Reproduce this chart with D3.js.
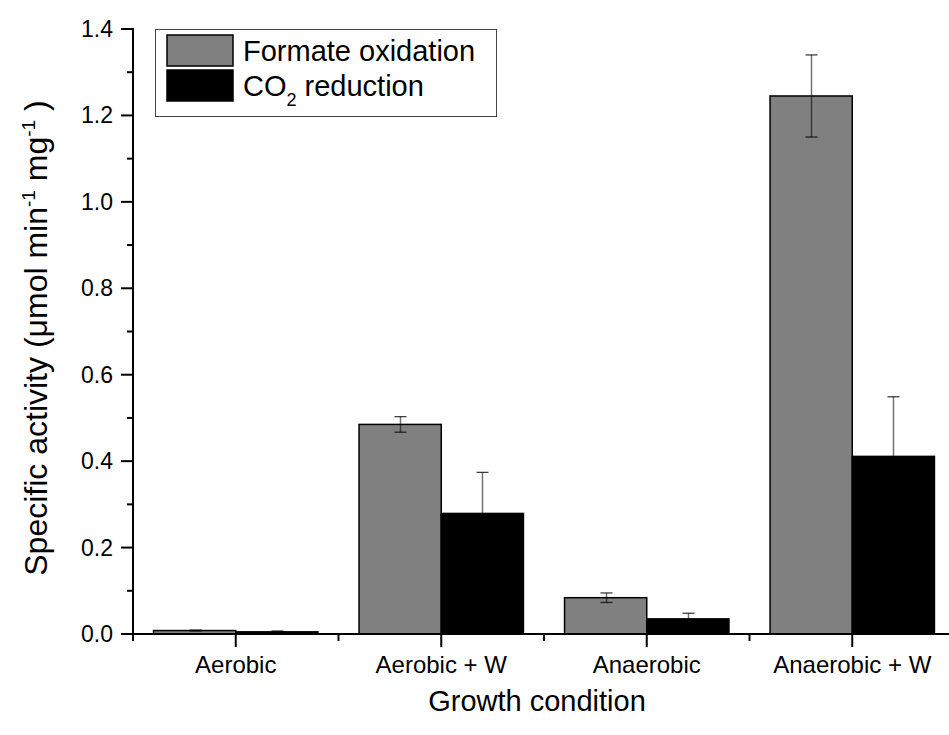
<!DOCTYPE html>
<html>
<head>
<meta charset="utf-8">
<script src="https://cdn.jsdelivr.net/npm/d3@7"></script>
<style>
  body { margin: 0; background: #fff; }
  text { font-family: "Liberation Sans", Arial, sans-serif; fill: #000; }
</style>
</head>
<body>
<div id="chart"></div>
<script>
var conditions = ["Aerobic", "Aerobic + W", "Anaerobic", "Anaerobic + W"];
var formateOx = [0.008, 0.485, 0.084, 1.245];
var formateErr = [0.001, 0.018, 0.011, 0.095];
var co2Red = [0.005, 0.279, 0.035, 0.411];
var co2Err = [0.002, 0.095, 0.013, 0.138];
var yTicks = [0.0, 0.2, 0.4, 0.6, 0.8, 1.0, 1.2, 1.4];

var width = 949, height = 735;

var svg = d3.select("#chart")
    .append("svg")
        .attr("width", width)
        .attr("height", height);

// category slots are 205.5 px wide, axis starts at x=133
var x = d3.scaleLinear()
        .domain([0, 4])
        .range([133, 955]);

var y = d3.scaleLinear()
        .domain([0, 1.4])
        .range([634, 29]);

var barW = 0.4;  // each series takes 40% of a slot

var series = [
    {name: "Formate oxidation", vals: formateOx, err: formateErr, fill: "#808080", off: -barW},
    {name: "CO2 reduction", vals: co2Red, err: co2Err, fill: "#000000", off: 0}
];

series.forEach(function(s) {
    var g = svg.append("g");
    g.selectAll("rect")
        .data(s.vals)
        .enter().append("rect")
            .attr("x", function(d, i) { return x(i + 0.5 + s.off); })
            .attr("width", x(barW) - x(0))
            .attr("y", function(d) { return y(d); })
            .attr("height", function(d) { return y(0) - y(d); })
            .attr("fill", s.fill)
            .attr("stroke", "#000")
            .attr("stroke-width", 1.5);

    // error bars, half-transparent black so they vanish inside black bars
    var cx = function(i) { return Math.round(x(i + 0.5 + s.off + barW / 2)) + 0.5; };
    var e = g.selectAll(".err")
        .data(s.vals)
        .enter().append("g");
    e.append("line")
        .attr("x1", function(d, i) { return cx(i); })
        .attr("x2", function(d, i) { return cx(i); })
        .attr("y1", function(d, i) { return y(d + s.err[i]); })
        .attr("y2", function(d, i) { return y(d - s.err[i]); })
        .attr("stroke", "#000")
        .attr("stroke-opacity", 0.55)
        .attr("stroke-width", 1.5);
    [1, -1].forEach(function(sign) {
        e.append("line")
            .attr("x1", function(d, i) { return cx(i) - 6; })
            .attr("x2", function(d, i) { return cx(i) + 6; })
            .attr("y1", function(d, i) { return y(d + sign * s.err[i]); })
            .attr("y2", function(d, i) { return y(d + sign * s.err[i]); })
            .attr("stroke", "#000")
            .attr("stroke-opacity", 0.75)
            .attr("stroke-width", 1.3);
    });
});

// y axis
var yAxis = svg.append("g");
yAxis.append("line")
    .attr("x1", 133).attr("x2", 133)
    .attr("y1", y(1.4) - 1).attr("y2", y(0))
    .attr("stroke", "#000").attr("stroke-width", 2);
var minorY = d3.range(0.1, 1.4, 0.2);
yAxis.selectAll(".minor")
    .data(minorY)
    .enter().append("line")
        .attr("x1", 127).attr("x2", 133)
        .attr("y1", function(d) { return y(d); })
        .attr("y2", function(d) { return y(d); })
        .attr("stroke", "#000").attr("stroke-width", 2);
yAxis.selectAll(".major")
    .data(yTicks)
    .enter().append("line")
        .attr("x1", 121).attr("x2", 133)
        .attr("y1", function(d) { return y(d); })
        .attr("y2", function(d) { return y(d); })
        .attr("stroke", "#000").attr("stroke-width", 2);
yAxis.selectAll("text")
    .data(yTicks)
    .enter().append("text")
        .attr("x", 113)
        .attr("y", function(d) { return y(d) + 8; })
        .attr("text-anchor", "end")
        .style("font-size", "23px")
        .text(function(d) { return d.toFixed(1); });

// x axis
var xAxis = svg.append("g");
xAxis.append("line")
    .attr("x1", 132).attr("x2", 955)
    .attr("y1", 634).attr("y2", 634)
    .attr("stroke", "#000").attr("stroke-width", 2);
xAxis.selectAll(".minor")
    .data(d3.range(0, 5))
    .enter().append("line")
        .attr("x1", function(d) { return x(d); })
        .attr("x2", function(d) { return x(d); })
        .attr("y1", 634).attr("y2", 641)
        .attr("stroke", "#000").attr("stroke-width", 2);
xAxis.selectAll(".major")
    .data(conditions)
    .enter().append("line")
        .attr("x1", function(d, i) { return x(i + 0.5); })
        .attr("x2", function(d, i) { return x(i + 0.5); })
        .attr("y1", 634).attr("y2", 647)
        .attr("stroke", "#000").attr("stroke-width", 2);
xAxis.selectAll("text")
    .data(conditions)
    .enter().append("text")
        .attr("x", function(d, i) { return x(i + 0.5); })
        .attr("y", 673)
        .attr("text-anchor", "middle")
        .style("font-size", "24px")
        .text(function(d) { return d; });

// axis titles
svg.append("text")
    .attr("x", 537)
    .attr("y", 711)
    .attr("text-anchor", "middle")
    .style("font-size", "29px")
    .text("Growth condition");

var yt = svg.append("text")
    .attr("transform", "translate(47,338) rotate(-90)")
    .attr("text-anchor", "middle")
    .style("font-size", "32px");
yt.append("tspan").text("Specific activity (\u03bcmol min");
yt.append("tspan").attr("dy", -12).style("font-size", "19px").text("-1");
yt.append("tspan").attr("dy", 12).text("  mg");
yt.append("tspan").attr("dy", -12).style("font-size", "19px").text("-1");
yt.append("tspan").attr("dy", 12).text(" )");

// legend
var leg = svg.append("g");
leg.append("rect")
    .attr("x", 155.5).attr("y", 29.5)
    .attr("width", 341).attr("height", 87)
    .attr("fill", "#fff")
    .attr("stroke", "#444").attr("stroke-width", 1);
series.forEach(function(s, i) {
    leg.append("rect")
        .attr("x", 167).attr("y", 35 + i * 35)
        .attr("width", 66).attr("height", 31)
        .attr("fill", s.fill)
        .attr("stroke", "#000").attr("stroke-width", 1.5);
});
leg.append("text")
    .attr("x", 243).attr("y", 61)
    .style("font-size", "29px")
    .text("Formate oxidation");
var l2 = leg.append("text")
    .attr("x", 243).attr("y", 96)
    .style("font-size", "29px");
l2.append("tspan").text("CO");
l2.append("tspan").attr("dy", 10).style("font-size", "18px").text("2");
l2.append("tspan").attr("dy", -10).text(" reduction");
</script>
</body>
</html>
